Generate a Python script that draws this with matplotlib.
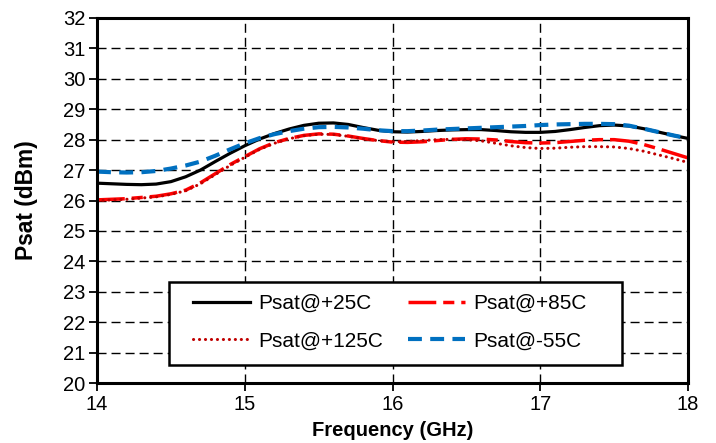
import numpy as np
import matplotlib
matplotlib.use("Agg")
import matplotlib.pyplot as plt
from matplotlib.patches import Rectangle

plt.rcParams['font.family'] = ['Liberation Sans', 'DejaVu Sans']
plt.rcParams['lines.scale_dashes'] = False

# frequency points (GHz)
freq = [14.0, 14.1, 14.2, 14.3, 14.4, 14.5, 14.6, 14.7, 14.8, 14.9,
        15.0, 15.1, 15.2, 15.3, 15.4, 15.5, 15.6, 15.7, 15.8, 15.9,
        16.0, 16.1, 16.2, 16.3, 16.4, 16.5, 16.6, 16.7, 16.8, 16.9,
        17.0, 17.1, 17.2, 17.3, 17.4, 17.5, 17.6, 17.7, 17.8, 17.9, 18.0]

# Psat (dBm)
psat_25 = [26.57, 26.55, 26.53, 26.52, 26.54, 26.62, 26.78, 27.00, 27.28, 27.55,
           27.80, 28.02, 28.20, 28.35, 28.47, 28.54, 28.55, 28.50, 28.40, 28.31,
           28.26, 28.25, 28.27, 28.30, 28.32, 28.33, 28.33, 28.30, 28.26, 28.24,
           28.24, 28.27, 28.33, 28.40, 28.46, 28.48, 28.45, 28.36, 28.25, 28.14, 28.04]
psat_85 = [26.02, 26.04, 26.06, 26.10, 26.14, 26.22, 26.34, 26.58, 26.88, 27.18,
           27.44, 27.70, 27.90, 28.04, 28.14, 28.19, 28.18, 28.12, 28.04, 27.97,
           27.92, 27.91, 27.93, 27.97, 28.01, 28.03, 28.02, 27.99, 27.94, 27.90,
           27.89, 27.90, 27.94, 27.98, 28.00, 28.00, 27.95, 27.84, 27.70, 27.55, 27.40]
psat_125 = [26.00, 26.02, 26.04, 26.08, 26.12, 26.20, 26.32, 26.55, 26.85, 27.15,
            27.42, 27.68, 27.88, 28.03, 28.13, 28.18, 28.17, 28.11, 28.03, 27.97,
            27.93, 27.94, 27.97, 28.00, 28.01, 28.00, 27.96, 27.88, 27.80, 27.74,
            27.71, 27.72, 27.75, 27.77, 27.77, 27.76, 27.71, 27.62, 27.50, 27.38, 27.25]
psat_m55 = [26.95, 26.93, 26.92, 26.93, 26.97, 27.05, 27.15, 27.28, 27.47, 27.68,
            27.88, 28.05, 28.18, 28.28, 28.36, 28.41, 28.42, 28.40, 28.36, 28.31,
            28.28, 28.28, 28.30, 28.33, 28.35, 28.37, 28.39, 28.41, 28.43, 28.45,
            28.48, 28.50, 28.51, 28.52, 28.52, 28.51, 28.46, 28.36, 28.25, 28.14, 28.04]

x_ticks = [14, 15, 16, 17, 18]
y_ticks = list(range(20, 33))

fig = plt.figure(figsize=(7.16, 4.43), dpi=100)
ax = fig.add_axes([0.1355, 0.1354, 0.8255, 0.8240])

l25, = ax.plot(freq, psat_25, color='black', lw=2.3, label='Psat@+25C')
l85, = ax.plot(freq, psat_85, color='#FF0000', lw=2.5, linestyle=(0, (20, 5, 8, 5)),
               label='Psat@+85C')
l125, = ax.plot(freq, psat_125, color='#C00000', lw=2.2, linestyle=(0, (0.1, 4.2)),
                dash_capstyle='round', label='Psat@+125C')
lm55, = ax.plot(freq, psat_m55, color='#0070C0', lw=3.0, linestyle=(0, (10, 6)),
                label='Psat@-55C')

ax.set_xlim(14, 18)
ax.set_ylim(20, 32)
ax.set_xticks(x_ticks)
ax.set_yticks(y_ticks)
ax.grid(True, color='black', lw=1.0, linestyle=(0, (6.5, 3.6)))
ax.set_axisbelow(True)
for s in ax.spines.values():
    s.set_linewidth(2.2)
ax.tick_params(direction='out', length=6, width=1.3, pad=2.5, labelsize=14.5)

ax.set_xlabel('Frequency (GHz)', fontsize=14.5, fontweight='bold', labelpad=5)
ax.set_ylabel('Psat (dBm)', fontsize=16.4, fontweight='bold', labelpad=18)

# legend frame
ax.add_patch(Rectangle((0.122, 0.049), 0.766, 0.228, transform=ax.transAxes,
                       fc='white', ec='black', lw=1.8, zorder=4))
leg = ax.legend([l25, l125, l85, lm55],
                ['Psat@+25C', 'Psat@+125C', 'Psat@+85C', 'Psat@-55C'],
                ncol=2, loc='upper left', bbox_to_anchor=(0.1624, 0.244),
                fontsize=15, frameon=False, borderpad=0, borderaxespad=0,
                handlelength=2.74, handletextpad=0.38, columnspacing=1.2,
                labelspacing=0.9)
leg.set_zorder(5)

fig.savefig('out.png', dpi=100)
